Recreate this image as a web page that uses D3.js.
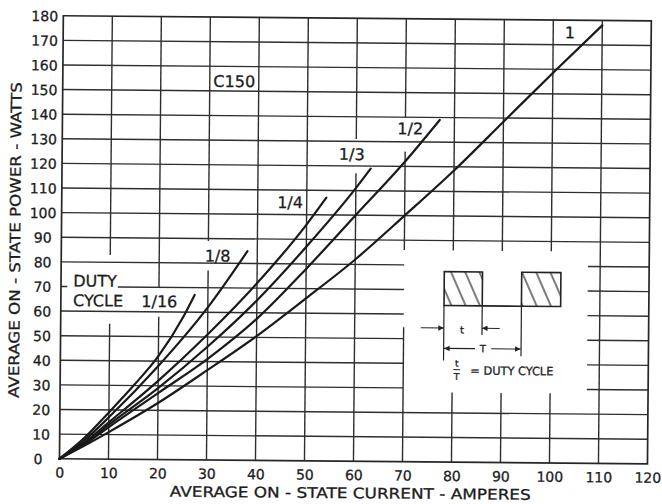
<!DOCTYPE html>
<html><head><meta charset="utf-8">
<script src="https://cdn.jsdelivr.net/npm/d3@7"></script>
<style>
html,body{margin:0;padding:0;background:#fff;}
svg{display:block;}
text{font-family:"DejaVu Sans",sans-serif;fill:#1c1c1c;stroke:#1c1c1c;stroke-width:0.3px;}
</style></head><body>
<svg id="chart" width="662" height="504"></svg>
<script>
// ---- tick values ----
const xTicks = [0,10,20,30,40,50,60,70,80,90,100,110,120];
const yTicks = [0,10,20,30,40,50,60,70,80,90,100,110,120,130,140,150,160,170,180];

// ---- series (average current A, average power W) ----
const dutyNames = ["1/16","1/8","1/4","1/3","1/2","1"];
const amps16  = [0,5,10,15,20,25,27.3];
const watts16 = [0,8.5,19,30,42,58,67];
const amps8   = [0,5,10,20,30,38];
const watts8  = [0,7.5,17,38,62,85];
const amps4   = [0,5,10,20,30,40,50,54];
const watts4  = [0,6.6,15,32,51,72,96,107];
const amps3   = [0,5,10,20,30,40,50,60,63];
const watts3  = [0,6.2,14,29,46,65,87,111,119];
const amps2   = [0,5,10,20,30,40,50,60,70,77];
const watts2  = [0,5.8,13,27,41,57.5,78,100,122,139];
const amps1   = [0,5,10,20,30,40,50,60,70,80,90,100,110];
const watts1  = [0,5.3,11,23,36.5,50.5,66,82,100,118.5,138.5,158.5,178];

const seriesAmps  = [amps16, amps8, amps4, amps3, amps2, amps1];
const seriesWatts = [watts16, watts8, watts4, watts3, watts2, watts1];

// ---- layout (not data) ----
const plot = {left:61.4, right:649.4, top:18.3, bottom:461.3};
const tilt = 0.5;  // scan tilt of the original
// gaps in grid lines (in data units) where labels / inset sit
const vGaps = {10:[[55,83]],20:[[58,70]],30:[[77,89]],60:[[117,131]],70:[[54.6,86],[126,140]],80:[[28.3,86]],90:[[28.3,86]],100:[[28.3,86]]};
const hGaps = {30:[[70,107.5]],40:[[70,107.5]],50:[[70,107.5]],60:[[70,107.5]],70:[[1.3,11.6],[70,107.5]],80:[[70,107.5]]};
const curveLabels = [
  {t:"1/16", a:20.1, w:64.3}, {t:"1/8", a:31.9, w:83}, {t:"1/4", a:46.6, w:105},
  {t:"1/3", a:59.1, w:124.8}, {t:"1/2", a:71, w:135.4}, {t:"1", a:103.4, w:175}
];

const svg = d3.select("#chart");
const x = d3.scaleLinear().domain([0,120]).range([plot.left, plot.right]);
const y = d3.scaleLinear().domain([0,180]).range([plot.bottom, plot.top]);
const cx = (plot.left+plot.right)/2, cy = (plot.top+plot.bottom)/2;
const g = svg.append("g").attr("transform", `rotate(${tilt} ${cx} ${cy})`);

function segs(lo, hi, gaps){
  const out=[]; let s=lo;
  (gaps||[]).slice().sort((p,q)=>p[0]-q[0]).forEach(gp=>{ out.push([s,gp[0]]); s=gp[1]; });
  out.push([s,hi]); return out;
}

// ---- grid ----
const grid = g.append("g").attr("stroke","#2e2e2e").attr("stroke-width",1.4).attr("fill","none");
xTicks.slice(1,-1).forEach(v=>{
  segs(0,180,vGaps[v]).forEach(sg=>{
    grid.append("line").attr("x1",x(v)).attr("x2",x(v)).attr("y1",y(sg[0])).attr("y2",y(sg[1]));
  });
});
yTicks.slice(1,-1).forEach(v=>{
  segs(0,120,hGaps[v]).forEach(sg=>{
    grid.append("line").attr("y1",y(v)).attr("y2",y(v)).attr("x1",x(sg[0])).attr("x2",x(sg[1]));
  });
});
g.append("rect").attr("x",x(0)).attr("y",y(180)).attr("width",x(120)-x(0)).attr("height",y(0)-y(180))
  .attr("fill","none").attr("stroke","#262626").attr("stroke-width",1.7);

// ---- axes (labels only) ----
const xAxis = g.append("g").attr("transform",`translate(0,${plot.bottom})`)
  .call(d3.axisBottom(x).tickValues(xTicks).tickSize(0).tickFormat(d3.format("d")));
xAxis.select(".domain").remove();
xAxis.selectAll("text").attr("y",13.8).attr("dy","0.36em").style("font-size","14px")
  .style("font-family","'DejaVu Sans',sans-serif").attr("fill","#1c1c1c");

const yAxis = g.append("g").attr("transform",`translate(${plot.left},0)`)
  .call(d3.axisLeft(y).tickValues(yTicks).tickSize(0).tickFormat(d3.format("d")));
yAxis.select(".domain").remove();
yAxis.selectAll("text").attr("x",d=> d===0 ? -21.5 : -18.6).attr("dy","0.36em").attr("text-anchor","middle")
  .style("font-size","14px").style("font-family","'DejaVu Sans',sans-serif").attr("fill","#1c1c1c");

g.append("text").attr("x",352.5).attr("y",493).attr("dy","0.36em").attr("text-anchor","middle")
  .attr("textLength",361).attr("lengthAdjust","spacingAndGlyphs").style("font-size","14.5px")
  .text("AVERAGE  ON - STATE  CURRENT - AMPERES");
g.append("text").attr("transform","translate(15,243) rotate(-90)").attr("dy","0.36em").attr("text-anchor","middle")
  .attr("textLength",316).attr("lengthAdjust","spacingAndGlyphs").style("font-size","14.5px")
  .text("AVERAGE  ON - STATE  POWER - WATTS");

// ---- curves ----
const line = d3.line().x(d=>x(d[0])).y(d=>y(d[1])).curve(d3.curveMonotoneX);
dutyNames.forEach((nm,i)=>{
  const pts = seriesAmps[i].map((a,j)=>[a, seriesWatts[i][j]]);
  g.append("path").datum(pts).attr("d",line).attr("fill","none")
    .attr("stroke","#1a1a1a").attr("stroke-width",2.2).attr("stroke-linecap","round");
});

// ---- labels ----
curveLabels.forEach(l=>{
  g.append("text").attr("x",x(l.a)).attr("y",y(l.w)).attr("dy","0.36em").attr("text-anchor","middle")
    .style("font-size","16px").text(l.t);
});
g.append("text").attr("x",x(35)).attr("y",y(154)).attr("dy","0.36em").attr("text-anchor","middle")
  .style("font-size","16px").text("C150");
g.append("text").attr("x",x(2.5)).attr("y",y(72.4)).attr("dy","0.36em").attr("text-anchor","start")
  .style("font-size","16px").text("DUTY");
g.append("text").attr("x",x(2.5)).attr("y",y(64.4)).attr("dy","0.36em").attr("text-anchor","start")
  .style("font-size","16px").text("CYCLE");

// ---- inset: pulse diagram ----
const defs = svg.append("defs");
const pat = defs.append("pattern").attr("id","hatch").attr("patternUnits","userSpaceOnUse")
  .attr("width",13).attr("height",13).attr("patternTransform","rotate(-24)");
pat.append("line").attr("x1",3).attr("x2",3).attr("y1",0).attr("y2",13).attr("stroke","#222").attr("stroke-width",1.2);
defs.append("marker").attr("id","arr").attr("viewBox","0 0 10 10").attr("refX",10).attr("refY",5)
  .attr("markerWidth",7).attr("markerHeight",5).attr("orient","auto")
  .append("path").attr("d","M0,0L10,5L0,10Z").attr("fill","#222");

const pulses = [[78.2,86],[94,102]];
const pTop = 77.4, pBase = 63.6;
const inset = g.append("g").attr("stroke","#222").attr("fill","none");
pulses.forEach(p=>{
  inset.append("rect").attr("x",x(p[0])).attr("y",y(pTop)).attr("width",x(p[1])-x(p[0])).attr("height",y(pBase)-y(pTop))
    .attr("fill","url(#hatch)").attr("stroke-width",1.6);
});
inset.append("line").attr("x1",x(86)).attr("x2",x(94)).attr("y1",y(pBase)).attr("y2",y(pBase)).attr("stroke-width",1.6);
[[78.2,41.3],[86,51.8],[94,43.3]].forEach(e=>{
  inset.append("line").attr("x1",x(e[0])).attr("x2",x(e[0])).attr("y1",y(pBase)).attr("y2",y(e[1])).attr("stroke-width",1.2);
});
const arrows = [[73.5,78.2,54.5],[89.6,86,54.5],[84.6,78.3,46.2],[87.9,93.9,46.2]];
arrows.forEach(a=>{
  inset.append("line").attr("x1",x(a[0])).attr("x2",x(a[1])).attr("y1",y(a[2])).attr("y2",y(a[2]))
    .attr("stroke-width",1.1).attr("marker-end","url(#arr)");
});
g.append("text").attr("x",x(81.9)).attr("y",y(53.8)).attr("dy","0.36em").attr("text-anchor","middle").style("font-size","10px").text("t");
g.append("text").attr("x",x(86.2)).attr("y",y(46.2)).attr("dy","0.36em").attr("text-anchor","middle").style("font-size","10px").text("T");
g.append("text").attr("x",x(80.9)).attr("y",y(40.2)).attr("dy","0.36em").attr("text-anchor","middle").style("font-size","9px").text("t");
g.append("line").attr("x1",x(80.2)).attr("x2",x(81.6)).attr("y1",y(37.6)).attr("y2",y(37.6)).attr("stroke","#222").attr("stroke-width",1);
g.append("text").attr("x",x(80.9)).attr("y",y(34.8)).attr("dy","0.36em").attr("text-anchor","middle").style("font-size","9px").text("T");
g.append("text").attr("x",x(83.7)).attr("y",y(37.3)).attr("dy","0.36em").attr("text-anchor","start")
  .attr("textLength",83).attr("lengthAdjust","spacingAndGlyphs").style("font-size","11.5px").text("= DUTY CYCLE");
</script>
</body></html>
